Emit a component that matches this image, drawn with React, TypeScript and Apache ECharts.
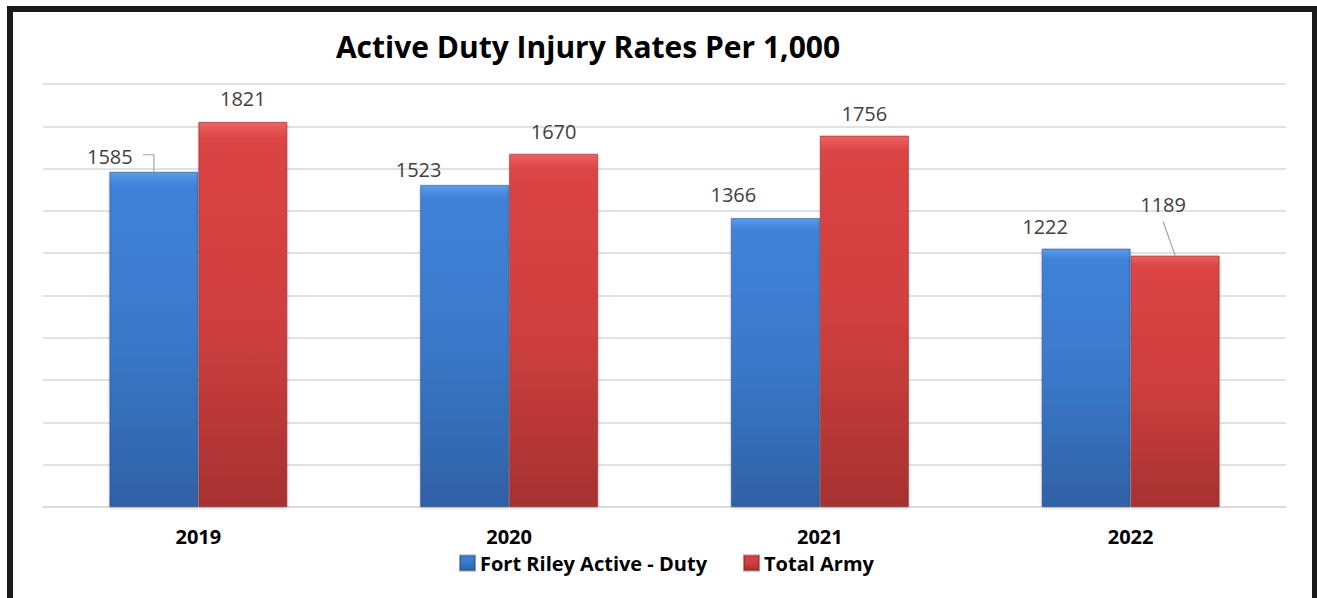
import React, { useEffect, useRef } from "react";
import * as echarts from "echarts";

const categories = ["2019", "2020", "2021", "2022"];
const fortRiley = [1585, 1523, 1366, 1222];
const totalArmy = [1821, 1670, 1756, 1189];
const seriesNames = ["Fort Riley Active - Duty", "Total Army"];
const titleText = "Active Duty Injury Rates Per 1,000";

// label offsets (style only)
const blueOffsets = [[-44, 0], [-46, 0], [-42, -9], [-41, -7]];
const redOffsets = [[0, -8], [0, -7], [0, -7], [-12, -36]];

const BAR_W = 89;
const FONT = "'Open Sans', 'Noto Sans', sans-serif";

const blueGrad = () =>
  new echarts.graphic.LinearGradient(0, 0, 0, 1, [
    { offset: 0, color: "#5b9bea" },
    { offset: 0.04, color: "#3f82d9" },
    { offset: 0.5, color: "#3a78c9" },
    { offset: 1, color: "#2f61a5" },
  ]);
const redGrad = () =>
  new echarts.graphic.LinearGradient(0, 0, 0, 1, [
    { offset: 0, color: "#ec6464" },
    { offset: 0.04, color: "#db4444" },
    { offset: 0.5, color: "#d03f3f" },
    { offset: 1, color: "#a73131" },
  ]);

export default function App() {
  const ref = useRef<HTMLDivElement>(null);
  useEffect(() => {
    if (!ref.current) return;
    const chart = echarts.init(ref.current, undefined, { renderer: "svg" });
    const labelBase = {
      show: true,
      position: "top" as const,
      distance: 5,
      color: "#404040",
      fontFamily: FONT,
      fontSize: 20,
    };
    chart.setOption({
      animation: false,
      backgroundColor: "#ffffff",
      grid: { left: 43, right: 31, top: 84, bottom: 91, containLabel: false },
      legend: {
        top: 548,
        left: 454,
        itemWidth: 15,
        itemHeight: 15,
        itemGap: 36,
        icon: "rect",
        textStyle: { fontFamily: FONT, fontWeight: "bold", fontSize: 20, color: "#000" },
        data: seriesNames,
      },
      xAxis: {
        type: "category",
        data: categories,
        axisLine: { lineStyle: { color: "#d9d9d9", width: 1.5 } },
        axisTick: { show: false },
        axisLabel: {
          margin: 19,
          fontFamily: FONT,
          fontWeight: "bold",
          fontSize: 20,
          color: "#000",
        },
      },
      yAxis: {
        type: "value",
        min: 0,
        max: 2000,
        interval: 200,
        axisLabel: { show: false },
        axisLine: { show: false },
        axisTick: { show: false },
        splitLine: { lineStyle: { color: "#d9d9d9", width: 1.5 } },
      },
      series: [
        {
          name: seriesNames[0],
          type: "bar",
          barWidth: BAR_W,
          barGap: "0%",
          itemStyle: {
            color: blueGrad(),
            borderColor: "rgba(30,70,130,0.5)",
            borderWidth: 1,
            shadowColor: "rgba(0,0,0,0.25)",
            shadowBlur: 3,
            shadowOffsetY: 1,
          },
          data: fortRiley.map((v, i) => ({
            value: v,
            label: { ...labelBase, offset: blueOffsets[i] },
          })),
        },
        {
          name: seriesNames[1],
          type: "bar",
          barWidth: BAR_W,
          barGap: "0%",
          itemStyle: {
            color: redGrad(),
            borderColor: "rgba(130,30,30,0.5)",
            borderWidth: 1,
            shadowColor: "rgba(0,0,0,0.25)",
            shadowBlur: 3,
            shadowOffsetY: 1,
          },
          data: totalArmy.map((v, i) => ({
            value: v,
            label: { ...labelBase, offset: redOffsets[i] },
          })),
        },
      ],
    });

    // leader lines, positioned from the chart's own scales
    const cx = (i: number) => chart.convertToPixel({ xAxisIndex: 0 }, categories[i]) as number;
    const py = (v: number) => chart.convertToPixel({ yAxisIndex: 0 }, v) as number;
    const b0x = cx(0) - BAR_W / 2;
    const b0y = py(fortRiley[0]);
    const r3x = cx(3) + BAR_W / 2;
    const r3y = py(totalArmy[3]);
    chart.setOption({
      graphic: [
        {
          type: "text",
          x: 588,
          y: 46,
          style: {
            text: titleText,
            fontFamily: FONT,
            fontWeight: "bold",
            fontSize: 30,
            fill: "#000",
            align: "center",
            verticalAlign: "middle",
          },
        },
        {
          type: "polyline",
          shape: { points: [[b0x - 11, b0y - 17], [b0x, b0y - 17], [b0x, b0y]] },
          style: { stroke: "#a6a6a6", lineWidth: 1.2, fill: "none" },
          silent: true,
        },
        {
          type: "polyline",
          shape: { points: [[r3x - 12, r3y - 34], [r3x, r3y]] },
          style: { stroke: "#a6a6a6", lineWidth: 1.2, fill: "none" },
          silent: true,
        },
      ],
    });
    return () => chart.dispose();
  }, []);

  return (
    <div style={{ position: "fixed", left: 0, top: 0, width: 1317, height: 598, background: "#fff", overflow: "hidden" }}>
      <div ref={ref} style={{ position: "absolute", left: 0, top: 0, width: 1317, height: 598 }} />
      <div
        style={{
          position: "absolute",
          left: 7,
          top: 6,
          width: 1299,
          height: 620,
          border: "6px solid #1a1a1a",
          pointerEvents: "none",
        }}
      />
    </div>
  );
}
